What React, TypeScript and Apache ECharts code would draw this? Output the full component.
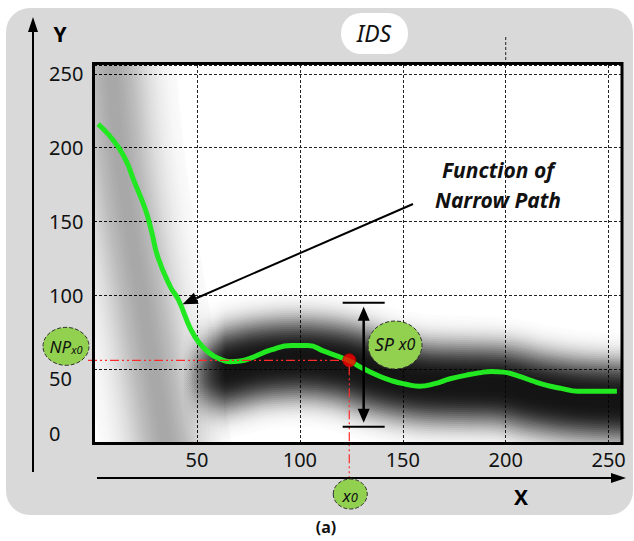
import React, { useEffect, useRef } from 'react';
import * as echarts from 'echarts';

// Narrow path function (green curve)
const curveX = [2, 7, 12, 16, 19, 25, 28, 31, 37, 41, 47, 51, 56, 61, 66, 71, 77, 86, 96, 104, 112, 119, 125, 130, 139, 145, 151, 158, 165, 173, 181, 187, 193, 199, 206, 213, 220, 227, 235, 243, 254];
const curveY = [216, 209, 200, 190, 179, 158, 143, 126, 106, 97, 77, 68, 61, 57, 55, 55.5, 58, 63, 66, 66, 62, 58.5, 55, 51, 45, 42, 40, 38.5, 40, 43.5, 46, 47.5, 48.5, 48, 45.5, 42, 39, 37, 35, 35, 35];

// dark blurred band of the IDS image (centre line)
const bandX = [32, 44, 54, 64, 80, 100, 120, 140, 160, 180, 198, 215, 235, 262];
const bandY = [42, 45, 47, 50, 55, 57, 54, 46, 41, 40, 39, 34, 30, 28];

// lighter gray halo on the left (centre line)
const haloX = [8, 12, 17, 23, 29, 35];
const haloY = [262, 200, 150, 100, 50, 0];

const xTickLabels = [50, 100, 150, 200, 250];
const yTickLabels = [0, 50, 100, 150, 200, 250];

// marked point x0 and its NP value
const x0 = 124;
const npX0 = 56;
// SP range at x0
const spX = 131;
const spRange = [11, 95];
// target of the "Function of Narrow Path" arrow (on the curve)
const arrowTarget = [43, 94];

const FONT = '"Noto Sans", "DejaVu Sans", sans-serif';

function pairs(xs: number[], ys: number[]) {
  return xs.map((x, i) => [x, ys[i]]);
}

// stacked translucent strokes that imitate a blurred band (style only)
function blurLayers(maxW: number, minW: number, step: number, tmax: number, sigma: number, pw: number) {
  const out: { w: number; a: number }[] = [];
  let prev = 0;
  for (let w = maxW; w >= minW; w -= step) {
    const r = w / 2;
    const t = tmax * Math.exp(-Math.pow(r / sigma, pw));
    const a = Math.max(0, 1 - (1 - t) / (1 - prev));
    prev = Math.max(prev, t);
    out.push({ w, a });
  }
  return out;
}
const bandLayers = blurLayers(136, 8, 4, 0.93, 42, 3);
const haloLayers = blurLayers(130, 8, 4, 0.3, 40, 2);

// alpha scale along the left fade-in (style only)
const fadeSteps = [0, 0.1, 0.2, 0.3, 0.4, 0.5, 0.6, 0.7, 0.8, 0.9, 1];
const fadeScale = fadeSteps.map((u) => Math.pow(u, 1.5));

function head(tip: number[], from: number[], len: number, half: number) {
  const dx = tip[0] - from[0];
  const dy = tip[1] - from[1];
  const n = Math.sqrt(dx * dx + dy * dy) || 1;
  const ux = dx / n, uy = dy / n;
  const bx = tip[0] - ux * len, by = tip[1] - uy * len;
  return {
    points: [tip, [bx - uy * half, by + ux * half], [bx + uy * half, by - ux * half]],
    base: [bx, by],
  };
}

// fade: [startOffsetPx, endOffsetPx] relative to the first point, for a left fade-in
function blurSeries(xs: number[], ys: number[], layers: { w: number; a: number }[], fade: number[] | null) {
  return {
    type: 'custom', clip: true, silent: true, z: 1,
    data: pairs(xs, ys),
    renderItem: (params: any, api: any) => {
      if (params.dataIndex !== 0) return null;
      const pts = xs.map((x, i) => api.coord([x, ys[i]]));
      return {
        type: 'group',
        children: layers.map((l) => {
          const col = 'rgba(0,0,0,' + l.a.toFixed(4) + ')';
          const stroke = fade
            ? {
                type: 'linear', global: true,
                x: pts[0][0] + fade[0], y: 0, x2: pts[0][0] + fade[1], y2: 0,
                colorStops: fadeSteps.map((u, k) => ({
                  offset: u,
                  color: 'rgba(0,0,0,' + (l.a * fadeScale[k]).toFixed(4) + ')',
                })),
              }
            : col;
          return {
            type: 'polyline',
            shape: { points: pts, smooth: 0.35 },
            style: { stroke, lineWidth: l.w, fill: null, lineCap: 'round', lineJoin: 'round' },
          };
        }),
      };
    },
  };
}

export default function App() {
  const ref = useRef<HTMLDivElement>(null);

  useEffect(() => {
    const chart = echarts.init(ref.current!, null, { renderer: 'svg' });
    const series: any[] = [
      blurSeries(haloX, haloY, haloLayers, null),
      blurSeries(bandX, bandY, bandLayers, [20, 66]),
      {
        type: 'line', data: pairs(curveX, curveY), smooth: true, symbol: 'none', z: 3,
        lineStyle: { color: '#22e822', width: 5 },
      },
      {
        type: 'scatter', data: [[x0, npX0]], symbolSize: 13, z: 4,
        itemStyle: { color: '#ff0000', borderColor: '#b00000', borderWidth: 1 },
      },
    ];

    const labelBase = { fontSize: 20, fontFamily: FONT, color: '#111' };

    chart.setOption({
      animation: false,
      grid: { left: 94, right: 13, top: 65, bottom: 98, show: true, backgroundColor: '#ffffff', borderWidth: 0 },
      xAxis: {
        type: 'value', min: 0, max: 256, interval: 50,
        axisLine: { show: false }, axisTick: { show: false },
        axisLabel: {
          ...labelBase, margin: 6,
          formatter: (v: number) => (xTickLabels.includes(v) ? String(v) : ''),
        },
        splitLine: { show: true, lineStyle: { color: '#222', width: 1, type: [3, 2] } },
      },
      yAxis: {
        type: 'value', min: 0, max: 256, interval: 50,
        axisLine: { show: false }, axisTick: { show: false },
        axisLabel: {
          ...labelBase, margin: 45, align: 'left',
          formatter: (v: number) => {
            if (!yTickLabels.includes(v)) return '';
            if (v === 0) return '{up|' + v + '}';
            if (v === 50) return '{down|' + v + '}';
            return '{n|' + v + '}';
          },
          rich: {
            n: { ...labelBase },
            up: { ...labelBase, padding: [0, 0, 20, 0] },
            down: { ...labelBase, padding: [18, 0, 0, 0] },
          },
        },
        splitLine: { show: true, lineStyle: { color: '#222', width: 1, type: [3, 2] } },
      },
      series,
    });

    const P = (x: number, y: number) => chart.convertToPixel({ gridIndex: 0 }, [x, y]) as number[];
    const p00 = P(0, 0);
    const p11 = P(256, 256);
    const pt = P(x0, npX0);
    const g: any[] = [];
    const black = '#000';

    // outer gray rounded panel
    g.push({ type: 'rect', z: -5, silent: true, shape: { x: 6, y: 8, width: 627, height: 507, r: 24 }, style: { fill: '#d9d9d9' } });
    // frame
    g.push({
      type: 'rect', z: 50, silent: true,
      shape: { x: p00[0] - 0.5, y: p11[1] - 1.5, width: p11[0] - p00[0] + 1.5, height: p00[1] - p11[1] + 2 },
      style: { fill: null, stroke: black, lineWidth: 3 },
    });
    // stray dashed line above the plot at x=200
    const p200 = P(200, 256);
    g.push({ type: 'line', z: 50, shape: { x1: p200[0], y1: 37, x2: p200[0], y2: p11[1] - 2 }, style: { stroke: '#222', lineWidth: 1, lineDash: [3, 2] } });

    // Y axis arrow
    g.push({ type: 'line', z: 50, shape: { x1: 33, y1: 28, x2: 33, y2: 472 }, style: { stroke: black, lineWidth: 2 } });
    g.push({ type: 'polygon', z: 50, shape: { points: [[33, 17], [28, 32], [38, 32]] }, style: { fill: black } });
    g.push({ type: 'text', z: 50, x: 60, y: 34, style: { text: 'Y', fontSize: 21, fontWeight: 'bold', fontFamily: FONT, fill: black, align: 'center', verticalAlign: 'middle' } });
    // X axis arrow
    g.push({ type: 'line', z: 50, shape: { x1: 97, y1: 478, x2: 614, y2: 478 }, style: { stroke: black, lineWidth: 2 } });
    g.push({ type: 'polygon', z: 50, shape: { points: [[626, 478], [611, 473], [611, 483]] }, style: { fill: black } });
    g.push({ type: 'text', z: 50, x: 521, y: 497, style: { text: 'X', fontSize: 21, fontWeight: 'bold', fontFamily: FONT, fill: black, align: 'center', verticalAlign: 'middle' } });

    // IDS title pill
    g.push({ type: 'rect', z: 50, shape: { x: 341, y: 13, width: 67, height: 41, r: 20 }, style: { fill: '#ffffff' } });
    g.push({ type: 'text', z: 51, x: 374, y: 33, style: { text: 'IDS', fontSize: 23, fontStyle: 'italic', fontFamily: FONT, fill: '#111', align: 'center', verticalAlign: 'middle' } });

    // caption
    g.push({ type: 'text', z: 50, x: 326, y: 527, style: { text: '(a)', fontSize: 16, fontWeight: 'bold', fontFamily: FONT, fill: '#111', align: 'center', verticalAlign: 'middle' } });

    // "Function of Narrow Path" with arrow
    g.push({ type: 'text', z: 50, x: 498, y: 170, style: { text: 'Function of', fontSize: 21, fontWeight: 'bold', fontStyle: 'italic', fontFamily: FONT, fill: '#111', align: 'center', verticalAlign: 'middle' } });
    g.push({ type: 'text', z: 50, x: 498, y: 200, style: { text: 'Narrow Path', fontSize: 21, fontWeight: 'bold', fontStyle: 'italic', fontFamily: FONT, fill: '#111', align: 'center', verticalAlign: 'middle' } });
    const tip = P(arrowTarget[0], arrowTarget[1]);
    const start = [413, 204];
    const ah = head(tip, start, 15, 6);
    g.push({ type: 'line', z: 50, shape: { x1: start[0], y1: start[1], x2: ah.base[0], y2: ah.base[1] }, style: { stroke: black, lineWidth: 2 } });
    g.push({ type: 'polygon', z: 50, shape: { points: ah.points }, style: { fill: black } });

    // red dash-dot guide lines
    const red = '#ff2a2a';
    const dash = [9, 3, 2, 3, 2, 3];
    g.push({ type: 'line', z: 45, shape: { x1: 88, y1: pt[1], x2: pt[0] - 6, y2: pt[1] }, style: { stroke: red, lineWidth: 1.2, lineDash: dash } });
    g.push({ type: 'line', z: 45, shape: { x1: pt[0], y1: pt[1] + 6, x2: pt[0], y2: 482 }, style: { stroke: red, lineWidth: 1.2, lineDash: dash } });

    // SP double arrow
    const spTop = P(spX, spRange[1]);
    const spBot = P(spX, spRange[0]);
    const sx = spTop[0];
    g.push({ type: 'line', z: 50, shape: { x1: sx - 21, y1: spTop[1], x2: sx + 21, y2: spTop[1] }, style: { stroke: black, lineWidth: 2 } });
    g.push({ type: 'line', z: 50, shape: { x1: sx - 21, y1: spBot[1], x2: sx + 21, y2: spBot[1] }, style: { stroke: black, lineWidth: 2 } });
    g.push({ type: 'line', z: 50, shape: { x1: sx, y1: spTop[1] + 14, x2: sx, y2: spBot[1] - 14 }, style: { stroke: black, lineWidth: 2.5 } });
    g.push({ type: 'polygon', z: 50, shape: { points: [[sx, spTop[1] + 4], [sx - 6, spTop[1] + 18], [sx + 6, spTop[1] + 18]] }, style: { fill: black } });
    g.push({ type: 'polygon', z: 50, shape: { points: [[sx, spBot[1] - 4], [sx - 6, spBot[1] - 18], [sx + 6, spBot[1] - 18]] }, style: { fill: black } });

    // green labelled ellipses
    const ellStyle = { fill: '#92d050', stroke: '#333', lineWidth: 1, lineDash: [4, 2] };
    g.push({ type: 'ellipse', z: 55, shape: { cx: 66, cy: pt[1] - 14, rx: 23, ry: 19 }, style: ellStyle });
    g.push({
      type: 'text', z: 56, x: 66, y: pt[1] - 14,
      style: {
        text: '{a|NP}{b|x0}', align: 'center', verticalAlign: 'middle', fill: '#111',
        rich: {
          a: { fontSize: 17, fontStyle: 'italic', fontFamily: FONT, fill: '#111' },
          b: { fontSize: 11, fontStyle: 'italic', fontFamily: FONT, fill: '#111', verticalAlign: 'bottom' },
        },
      },
    });
    g.push({ type: 'ellipse', z: 55, shape: { cx: 395, cy: 345, rx: 27, ry: 24 }, style: ellStyle });
    g.push({
      type: 'text', z: 56, x: 395, y: 344,
      style: {
        text: '{a|SP }{b|x0}', align: 'center', verticalAlign: 'middle', fill: '#111',
        rich: {
          a: { fontSize: 18, fontStyle: 'italic', fontFamily: FONT, fill: '#111' },
          b: { fontSize: 16, fontStyle: 'italic', fontFamily: FONT, fill: '#111' },
        },
      },
    });
    g.push({ type: 'ellipse', z: 55, shape: { cx: pt[0] + 1, cy: 494, rx: 17, ry: 15 }, style: ellStyle });
    g.push({
      type: 'text', z: 56, x: pt[0] + 1, y: 495,
      style: {
        text: '{a|x}{b|0}', align: 'center', verticalAlign: 'middle', fill: '#111',
        rich: {
          a: { fontSize: 17, fontStyle: 'italic', fontFamily: FONT, fill: '#111' },
          b: { fontSize: 13, fontStyle: 'italic', fontFamily: FONT, fill: '#111', verticalAlign: 'bottom' },
        },
      },
    });

    chart.setOption({ graphic: g });
    return () => chart.dispose();
  }, []);

  return <div ref={ref} style={{ position: 'fixed', left: 0, top: 0, width: 634, height: 541, background: '#fff' }} />;
}
